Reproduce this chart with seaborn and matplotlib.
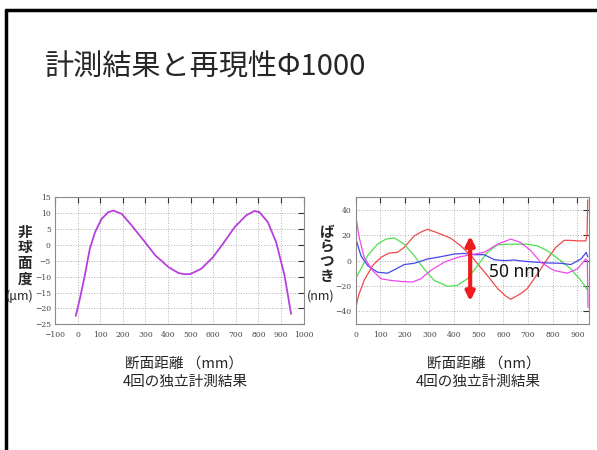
import matplotlib
matplotlib.use('Agg')
import matplotlib.pyplot as plt
import pandas as pd
import seaborn as sns
from matplotlib.lines import Line2D

# Data
title = '計測結果と再現性Φ1000'

# left chart: asphericity profile (µm) vs section distance (mm)
left_x = [-8, 10, 32, 54, 77, 106, 136, 158, 195, 240, 299, 344, 403, 446, 475,
          500, 547, 599, 643, 695, 746, 783, 805, 842, 879, 916, 945]
left_y = [-22.3, -17, -9.7, -1.4, 3.8, 8, 10.1, 10.6, 9.6, 5.9, 0.7, -3.4, -7.1, -8.9, -9.3,
          -9.2, -7.6, -4, 0.2, 5.4, 9.1, 10.5, 10.1, 7, 0.7, -9.7, -21.7]
left_xticks = list(range(-100, 1001, 100))
left_yticks = list(range(-25, 16, 5))

# right chart: 4 independent measurements, deviation (nm)
red_x = [0, 8, 15, 35, 69, 103, 136, 170, 197, 238, 270, 292, 332, 386, 427, 468, 501,
         535, 576, 610, 630, 670, 697, 738, 778, 812, 846, 873, 900, 934, 939, 942]
red_y = [-39, -31, -26, -15.6, -3.9, 2.6, 6, 6.5, 10.4, 19.5, 23, 24.7, 22, 17.7, 11.7, 3.9, -3.9,
         -11.7, -22, -28, -30.5, -26, -22, -10.4, 1.3, 10.4, 16, 16, 15.6, 15.6, 20, 48]
green_x = [0, 22, 49, 89, 123, 157, 197, 238, 278, 319, 373, 413, 454, 495, 535, 576,
           630, 697, 738, 778, 832, 873, 914, 942]
green_y = [-14.3, -6.5, 3.9, 13, 17, 18, 13, 3.9, -6.5, -15.6, -20.3, -19.5, -14.3, -3.9, 6.5, 12.5,
           13, 13, 11.7, 7.8, 0, -6.5, -15.6, -23.4]
blue_x = [0, 22, 49, 89, 130, 157, 197, 238, 292, 346, 400, 441, 481, 522, 562, 603,
          643, 684, 738, 778, 832, 873, 914, 936, 942]
blue_y = [18.2, 3.9, -3.9, -9.1, -9.9, -7.3, -3.1, -2.1, 1.3, 3.1, 5.2, 5.7, 4.7, 4.7, 0.8, 0,
          0.5, -0.5, -1.3, -1.8, -2.1, -3.1, 1.3, 6.5, 3]
mag_x = [0, 15, 35, 69, 103, 143, 184, 231, 265, 305, 359, 414, 468, 522, 576, 630,
         670, 711, 751, 805, 859, 900, 934, 940, 943]
mag_y = [36.5, 18.2, 2.6, -7.8, -14.3, -15.6, -16.4, -16.9, -14.3, -7.8, -1.3, 2.6, 4.7, 6.5, 13, 17,
         14.3, 7.8, -1.3, -7.8, -9.9, -6.5, 1.3, 0, -37]
right_xticks = list(range(0, 901, 100))
right_yticks = [-40, -20, 0, 20, 40]
arrow_x, arrow_top, arrow_bottom = 465, 19.5, -32

sns.set_style('white')
plt.rcParams['font.family'] = ['Noto Sans CJK JP', 'DejaVu Sans']

df_left = pd.DataFrame({'x': left_x, 'y': left_y})
frames = []
for name, xs, ys in [('red', red_x, red_y), ('green', green_x, green_y),
                     ('blue', blue_x, blue_y), ('magenta', mag_x, mag_y)]:
    frames.append(pd.DataFrame({'x': xs, 'y': ys, 'run': name}))
df_right = pd.concat(frames, ignore_index=True)
palette = {'red': '#f04848', 'green': '#4ee04e', 'blue': '#4646ee', 'magenta': '#f048f0'}

fig = plt.figure(figsize=(5.97, 4.5), dpi=100)
ax1 = fig.add_axes([0.0921, 0.2789, 0.4163, 0.2844])
ax2 = fig.add_axes([0.5955, 0.2800, 0.3903, 0.2816])

sns.lineplot(data=df_left, x='x', y='y', ax=ax1, color='#b640dc', linewidth=1.3,
             estimator=None, sort=False)
sns.lineplot(data=df_right, x='x', y='y', hue='run', palette=palette, ax=ax2,
             linewidth=0.9, estimator=None, sort=False, legend=False)

ax1.set_xlim(-100, 1000)
ax1.set_ylim(-25, 15)
ax1.set_xticks(left_xticks)
ax1.set_yticks(left_yticks)
ax2.set_xlim(0, 945)
ax2.set_ylim(-50, 50)
ax2.set_xticks(right_xticks)
ax2.set_yticks(right_yticks)

for ax in (ax1, ax2):
    ax.set_xlabel('')
    ax.set_ylabel('')
    ax.grid(True, linestyle=':', color='#b0b0b0', linewidth=0.7)
    for s in ax.spines.values():
        s.set_color('#8a8a8a')
        s.set_linewidth(0.8)
    ax.tick_params(direction='in', length=4, width=0.8, color='#333333',
                   top=True, right=True, labelsize=5.5, labelcolor='#444444', pad=5)
    ax.tick_params(axis='y', pad=3)
    for lab in ax.get_xticklabels() + ax.get_yticklabels():
        lab.set_family('DejaVu Serif')

# double headed arrow and its label
ax2.annotate('', xy=(arrow_x, arrow_top), xytext=(arrow_x, arrow_bottom),
             arrowprops=dict(arrowstyle='<|-|>', color='#ee1c1c', lw=3, mutation_scale=13,
                             shrinkA=0, shrinkB=0))
ax2.text(540, -9, '50 nm', fontsize=12.5, ha='left', va='center', color='#111111',
         family=['Noto Sans', 'DejaVu Sans'])

# slide title and frame
fig.text(45 / 597, 1 - 68 / 450, title, fontsize=21, ha='left', va='center')
fig.add_artist(Line2D([6 / 597, 6 / 597], [0, 1 - 10 / 450], color='black', lw=2.5))
fig.add_artist(Line2D([6 / 597, 1], [1 - 10 / 450, 1 - 10 / 450], color='black', lw=2.5))

# vertical stacked y labels
for i, ch in enumerate('非球面度'):
    fig.text(25 / 597, 1 - (232 + 15.4 * i) / 450, ch, fontsize=10.5, fontweight='bold',
             ha='center', va='center')
fig.text(20 / 597, 1 - 296 / 450, '(μm)', fontsize=9, ha='center', va='center')
for i, ch in enumerate('ばらつき'):
    fig.text(327 / 597, 1 - (232 + 14.5 * i) / 450, ch, fontsize=10.5, fontweight='bold',
             ha='center', va='center')
fig.text(321 / 597, 1 - 296 / 450, '(nm)', fontsize=9, ha='center', va='center')

# x labels
fig.text(184 / 597, 1 - 364 / 450, '断面距離 （mm）', fontsize=10.5, ha='center', va='center')
fig.text(185 / 597, 1 - 382 / 450, '4回の独立計測結果', fontsize=10.5, ha='center', va='center')
fig.text(484 / 597, 1 - 364 / 450, '断面距離 （nm）', fontsize=10.5, ha='center', va='center')
fig.text(478 / 597, 1 - 382 / 450, '4回の独立計測結果', fontsize=10.5, ha='center', va='center')

fig.savefig('out.png', dpi=100)
